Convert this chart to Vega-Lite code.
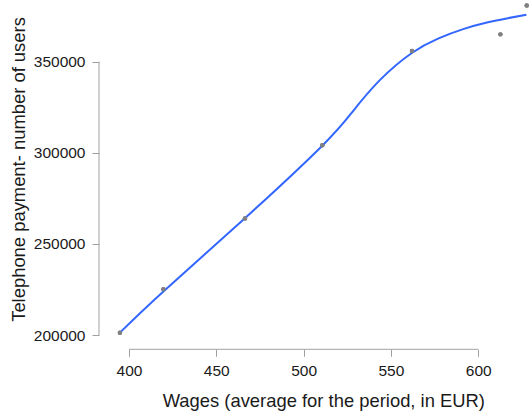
{
  "$schema": "https://vega.github.io/schema/vega-lite/v6.json",
  "width": 426,
  "height": 346,
  "autosize": "none",
  "padding": {"left": 104, "top": 0, "right": 0, "bottom": 69},
  "background": "white",
  "config": {"view": {"stroke": null}, "font": "Liberation Sans"},
  "datasets": {
    "points": [
      {"wage": 394.8, "users": 201200},
      {"wage": 419.7, "users": 225100},
      {"wage": 466.4, "users": 264000},
      {"wage": 510.7, "users": 304100},
      {"wage": 562.1, "users": 355900},
      {"wage": 612.7, "users": 365000},
      {"wage": 627.8, "users": 380900}
    ],
    "smooth": [
      {"wage": 394.8, "users": 201300},
      {"wage": 419.7, "users": 223900},
      {"wage": 466.4, "users": 264100},
      {"wage": 510.7, "users": 303900},
      {"wage": 528.0, "users": 322500},
      {"wage": 543.8, "users": 340000},
      {"wage": 562.0, "users": 354800},
      {"wage": 577.0, "users": 362700},
      {"wage": 591.4, "users": 367900},
      {"wage": 605.0, "users": 371500},
      {"wage": 617.0, "users": 373900},
      {"wage": 627.6, "users": 375800}
    ],
    "frame": [{"id": 1}]
  },
  "layer": [
    {
      "data": {"name": "points"},
      "mark": {"type": "circle", "color": "#808080", "size": 20, "opacity": 1},
      "encoding": {
        "x": {
          "field": "wage",
          "type": "quantitative",
          "scale": {"domain": [385.68, 629.67], "nice": false, "zero": false},
          "axis": {
            "offset": 3.3,
            "domain": false,
            "grid": false,
            "values": [400, 450, 500, 550, 600],
            "tickColor": "#a0a0a0",
            "tickSize": 7,
            "tickWidth": 1,
            "labelFontSize": 15.5,
            "labelColor": "#1a1a1a",
            "labelPadding": 7,
            "title": "Wages (average for the period, in EUR)",
            "titleFontSize": 18.4,
            "titleFontWeight": "normal",
            "titleColor": "#1a1a1a",
            "titleX": 219.3,
            "titleY": 57.4,
            "titleBaseline": "alphabetic",
            "titleAlign": "center"
          }
        },
        "y": {
          "field": "users",
          "type": "quantitative",
          "scale": {"domain": [193963, 383865], "nice": false, "zero": false},
          "axis": {
            "offset": 5,
            "domain": false,
            "grid": false,
            "values": [200000, 250000, 300000, 350000],
            "format": "d",
            "tickColor": "#a0a0a0",
            "tickSize": 7,
            "tickWidth": 1,
            "labelFontSize": 15.5,
            "labelColor": "#1a1a1a",
            "labelPadding": 7,
            "title": "Telephone payment- number of users",
            "titleFontSize": 18.4,
            "titleFontWeight": "normal",
            "titleColor": "#1a1a1a",
            "titleX": -75,
            "titleY": 169,
            "titleAngle": 270,
            "titleBaseline": "alphabetic",
            "titleAlign": "center"
          }
        }
      }
    },
    {
      "data": {"name": "frame"},
      "mark": {"type": "rule", "color": "#a0a0a0", "strokeWidth": 1},
      "encoding": {
        "x": {"datum": 400, "type": "quantitative"},
        "x2": {"datum": 600},
        "y": {"datum": 192150, "type": "quantitative"}
      }
    },
    {
      "data": {"name": "frame"},
      "mark": {"type": "rule", "color": "#a0a0a0", "strokeWidth": 1},
      "encoding": {
        "x": {"datum": 382.82, "type": "quantitative"},
        "y": {"datum": 200000, "type": "quantitative"},
        "y2": {"datum": 350000}
      }
    },
    {
      "data": {"name": "smooth"},
      "mark": {"type": "line", "color": "#3366FF", "strokeWidth": 2, "interpolate": "natural"},
      "encoding": {
        "x": {"field": "wage", "type": "quantitative"},
        "y": {"field": "users", "type": "quantitative"}
      }
    },
    {
      "data": {"name": "points"},
      "mark": {"type": "circle", "color": "#808080", "size": 20, "opacity": 1},
      "encoding": {
        "x": {"field": "wage", "type": "quantitative"},
        "y": {"field": "users", "type": "quantitative"}
      }
    }
  ]
}
